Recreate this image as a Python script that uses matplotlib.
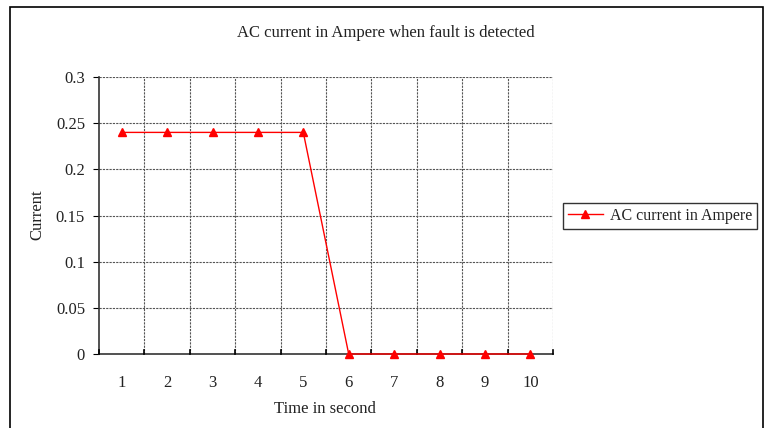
import matplotlib
matplotlib.use("Agg")
import matplotlib.pyplot as plt
from matplotlib.patches import Rectangle
from matplotlib.lines import Line2D

categories = [1, 2, 3, 4, 5, 6, 7, 8, 9, 10]
current = [0.24, 0.24, 0.24, 0.24, 0.24, 0, 0, 0, 0, 0]
y_ticks = [0, 0.05, 0.1, 0.15, 0.2, 0.25, 0.3]
y_labels = ["0", "0.05", "0.1", "0.15", "0.2", "0.25", "0.3"]

plt.rcParams['font.family'] = ['Liberation Serif', 'DejaVu Serif']

W, H = 766, 428
fig = plt.figure(figsize=(W/100, H/100), dpi=100)
fig.patch.set_facecolor('white')

# outer chart border
fig.add_artist(Rectangle((10/W, -0.05), 753/W, (1 - 7/H) + 0.05, transform=fig.transFigure,
                         fill=False, edgecolor='black', linewidth=1.2))

ax = fig.add_axes([99/W, 1 - 354/H, (553-99)/W, (354-77)/H])
x = list(range(len(categories)))
ax.plot(x, current, color='red', linewidth=1.0, marker='^', markersize=5.5,
        markerfacecolor='red', markeredgecolor='red', label='AC current in Ampere',
        zorder=5, clip_on=False)

ax.set_xlim(-0.5, len(categories) - 0.5)
ax.set_ylim(0, 0.3)
ax.set_yticks(y_ticks)
ax.set_yticklabels(y_labels)
ax.set_xticks(x)
ax.set_xticklabels([str(c) for c in categories])
ax.tick_params(axis='x', length=0, pad=15, labelsize=12, colors='#222222')
ax.tick_params(axis='y', length=4, direction='out', pad=6, labelsize=12, colors='#222222')
ax.tick_params(axis='y', color='black')

grid_style = dict(color='#555555', linewidth=0.8, linestyle=(0, (2, 1)), zorder=1)
for yv in y_ticks[1:]:
    ax.axhline(yv, **grid_style)
for b in range(len(categories)):
    ax.axvline(b + 0.5, **grid_style)
# small boundary ticks on x-axis
for b in range(len(categories) + 1):
    ax.plot([b - 0.5, b - 0.5], [0, 0.004], color='black', linewidth=1.2, clip_on=False, zorder=4)

for s in ['top', 'right']:
    ax.spines[s].set_visible(False)
ax.spines['left'].set_color('#333333')
ax.spines['bottom'].set_color('#333333')
ax.spines['left'].set_linewidth(1.2)
ax.spines['bottom'].set_linewidth(1.2)

fig.text(386/W, 1 - 33/H, 'AC current in Ampere when fault is detected', ha='center', va='center',
         fontsize=12, color='#222222')
fig.text(325/W, 1 - 409/H, 'Time in second', ha='center', va='center', fontsize=12, color='#222222')
fig.text(37/W, 1 - 215/H, 'Current', ha='center', va='center', rotation=90, fontsize=12, color='#222222')

# legend
handle = Line2D([0], [0], color='red', linewidth=1.0, marker='^', markersize=5.5,
                markerfacecolor='red', markeredgecolor='red')
leg = fig.legend([handle], ['AC current in Ampere'], loc='center left',
                 bbox_to_anchor=(563/W, 1 - 216/H), frameon=True, fancybox=False,
                 edgecolor='black', fontsize=11.5, handlelength=2.2, handletextpad=0.45,
                 borderpad=0.3, borderaxespad=0)
leg.get_frame().set_linewidth(1.0)
for t in leg.get_texts():
    t.set_color('#222222')

fig.savefig('out.png', dpi=100, facecolor='white')
